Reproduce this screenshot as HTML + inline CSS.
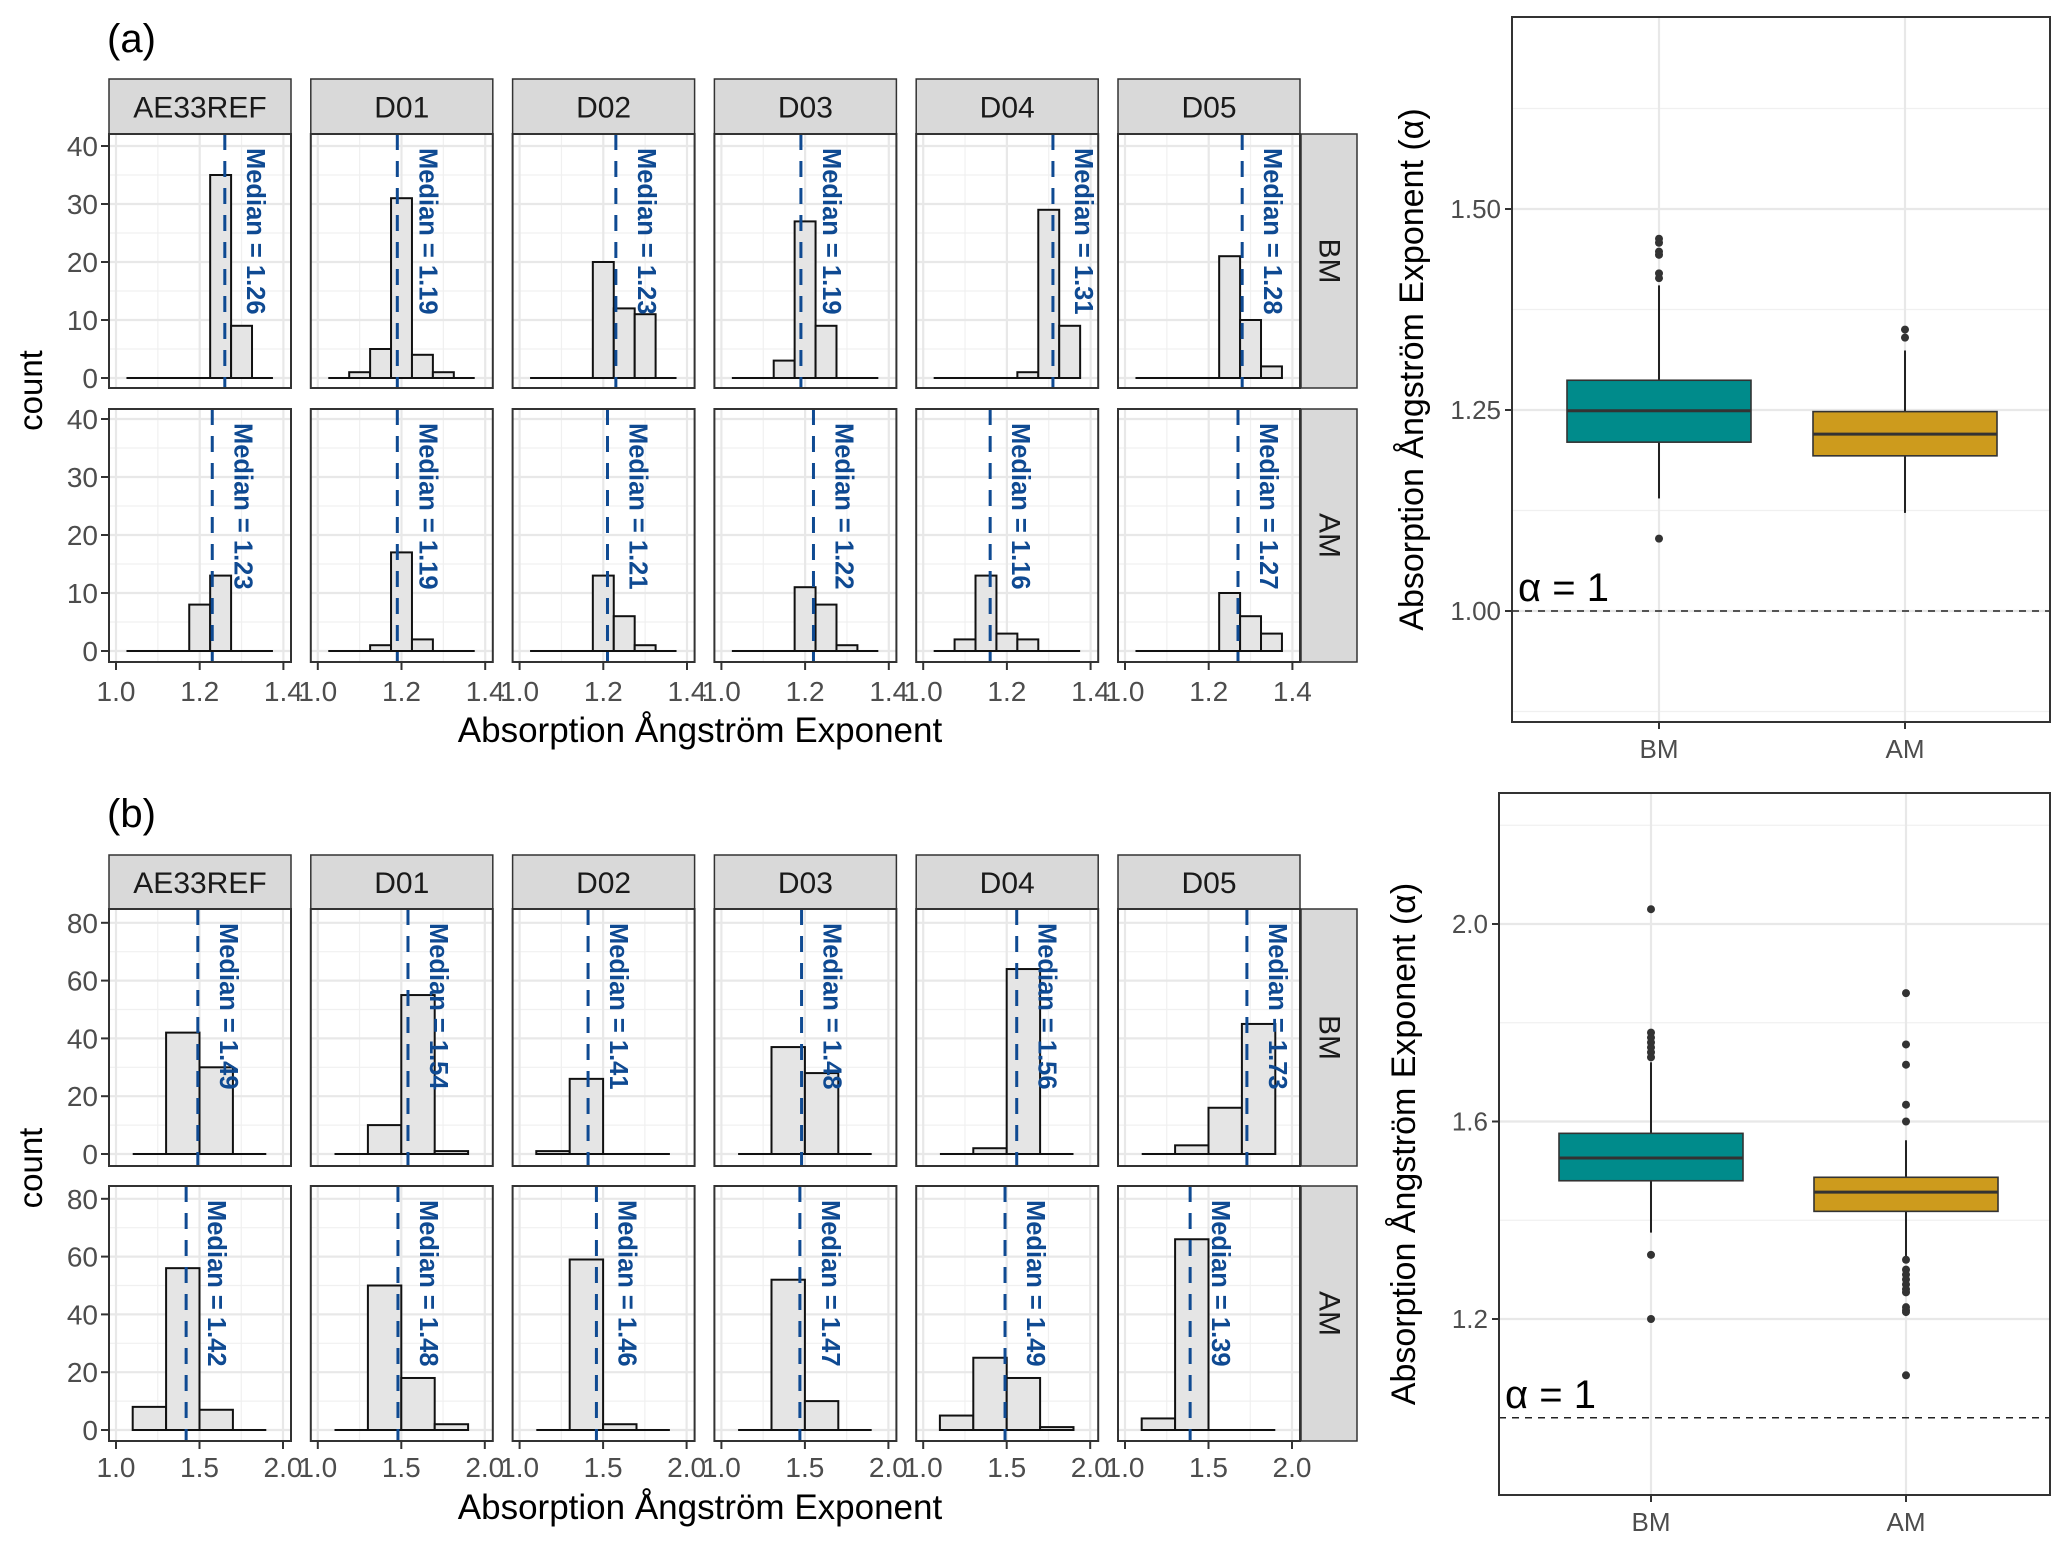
<!DOCTYPE html>
<html><head><meta charset="utf-8"><style>
html,body{margin:0;padding:0;background:#fff}
svg{display:block}
text{font-family:"Liberation Sans",Arial,sans-serif}
</style></head><body>
<svg id="fig" xmlns="http://www.w3.org/2000/svg" width="2067" height="1548" viewBox="0 0 2067 1548">
<rect x="0" y="0" width="2067" height="1548" fill="#fff"/>
<text x="107" y="52" font-size="40">(a)</text>
<text x="107" y="827" font-size="40">(b)</text>
</svg>
<script>
// ---------- data ----------
const cats = ['AE33REF','D01','D02','D03','D04','D05'];
// (a) histograms: bins from 1.025, width 0.05, 7 bins
const aBinStart = 1.025;
const aBinWidth = 0.05;
const aCountsBM = [[0,0,0,0,35,9,0],[0,1,5,31,4,1,0],[0,0,0,20,12,11,0],[0,0,3,27,9,0,0],[0,0,0,0,1,29,9],[0,0,0,0,21,10,2]];
const aCountsAM = [[0,0,0,8,13,0,0],[0,0,1,17,2,0,0],[0,0,0,13,6,1,0],[0,0,0,11,8,1,0],[0,2,13,3,2,0,0],[0,0,0,0,10,6,3]];
const aMedBM = [1.26,1.19,1.23,1.19,1.31,1.28];
const aMedAM = [1.23,1.19,1.21,1.22,1.16,1.27];
const aXTicks = [1.0,1.2,1.4];
const aXTickLabels = ['1.0','1.2','1.4'];
const aYTicks = [0,10,20,30,40];
// (b) histograms: bins from 1.1, width 0.2, 4 bins
const bBinStart = 1.1;
const bBinWidth = 0.2;
const bCountsBM = [[0,42,30,0],[0,10,55,1],[1,26,0,0],[0,37,28,0],[0,2,64,0],[0,3,16,45]];
const bCountsAM = [[8,56,7,0],[0,50,18,2],[0,59,2,0],[0,52,10,0],[5,25,18,1],[4,66,0,0]];
const bMedBM = [1.49,1.54,1.41,1.48,1.56,1.73];
const bMedAM = [1.42,1.48,1.46,1.47,1.49,1.39];
const bXTicks = [1.0,1.5,2.0];
const bXTickLabels = ['1.0','1.5','2.0'];
const bYTicks = [0,20,40,60,80];
// box plots
const boxGroups = ['BM','AM'];
const boxA_stats = [[1.14,1.21,1.249,1.287,1.405],[1.122,1.193,1.22,1.248,1.324]]; // lo, q1, med, q3, hi
const boxA_out = [[1.463,1.458,1.447,1.443,1.42,1.414,1.09],[1.35,1.34]];
const boxA_ticks = [1.00,1.25,1.50];
const boxA_tickLabels = ['1.00','1.25','1.50'];
const boxB_stats = [[1.375,1.48,1.526,1.576,1.72],[1.32,1.418,1.457,1.487,1.562]];
const boxB_out = [[2.03,1.78,1.77,1.76,1.75,1.74,1.73,1.33,1.20],[1.86,1.756,1.715,1.634,1.60,1.32,1.30,1.29,1.28,1.27,1.26,1.254,1.224,1.218,1.214,1.086]];
const boxB_ticks = [1.2,1.6,2.0];
const boxB_tickLabels = ['1.2','1.6','2.0'];

// ---------- helpers ----------
const NS='http://www.w3.org/2000/svg';
const svg=document.getElementById('fig');
function mk(tag,attrs,parent){const e=document.createElementNS(NS,tag);for(const k in attrs)e.setAttribute(k,attrs[k]);(parent||svg).appendChild(e);return e;}

function drawSection(cfg){
  const g=mk('g',{});
  
  
  const left0=109, step=201.8, w=182;
  cats.forEach((c,i)=>{
    const L=left0+step*i;
    const st=mk('rect',{x:L,y:cfg.stripTop,width:w,height:cfg.rows[0].top-cfg.stripTop,fill:'#d9d9d9',stroke:'#333','stroke-width':1.5},g);
    
    
    const stt=mk('text',{x:L+w/2,y:(cfg.stripTop+cfg.rows[0].top)/2+11,'font-size':30,'text-anchor':'middle',fill:'#1a1a1a'},g);
    stt.textContent=c;
    
    
    cfg.rows.forEach((r,ri)=>{
      const xs=v=>L+7+(v-1.0)*cfg.xPer;
      const ys=v=>r.y0-v*r.yPer;
      const pg=mk('g',{},g);
      
      
      mk('rect',{x:L,y:r.top,width:w,height:r.bottom-r.top,fill:'#fff'},pg);
      cfg.xMinor.forEach(v=>mk('line',{x1:xs(v),x2:xs(v),y1:r.top,y2:r.bottom,stroke:'#f0f0f0','stroke-width':1.2},pg));
      cfg.yMinor.forEach(v=>mk('line',{x1:L,x2:L+w,y1:ys(v),y2:ys(v),stroke:'#f0f0f0','stroke-width':1.2},pg));
      cfg.xTicks.forEach(v=>mk('line',{x1:xs(v),x2:xs(v),y1:r.top,y2:r.bottom,stroke:'#e8e8e8','stroke-width':2.2},pg));
      cfg.yTicks.forEach(v=>mk('line',{x1:L,x2:L+w,y1:ys(v),y2:ys(v),stroke:'#e8e8e8','stroke-width':2.2},pg));
      const counts=r.counts[i];
      const e0=cfg.binStart, e1=cfg.binStart+cfg.binWidth*counts.length;
      const base=mk('line',{x1:xs(e0),x2:xs(e1),y1:ys(0),y2:ys(0),stroke:'#111','stroke-width':2},pg);
      
      
      counts.forEach((n,k)=>{
        if(n<=0)return;
        const a=cfg.binStart+k*cfg.binWidth;
        const b=mk('rect',{x:xs(a),y:ys(n),width:xs(a+cfg.binWidth)-xs(a),height:ys(0)-ys(n),fill:'#e5e5e5',stroke:'#111','stroke-width':2},pg);
        
        
      });
      const m=r.med[i];
      const ml=mk('line',{x1:xs(m),x2:xs(m),y1:r.top,y2:r.bottom,stroke:'#0f4a92','stroke-width':3,'stroke-dasharray':'16,11'},pg);
      
      
      const tx=xs(m)+22, ty=r.top+14;
      const mt=mk('text',{x:tx,y:ty,'font-size':25.5,'font-weight':'bold',fill:'#0f4a92',transform:'rotate(90 '+tx+' '+ty+')'},pg);
      mt.textContent='Median = '+m.toFixed(2);
      
      
      mk('rect',{x:L,y:r.top,width:w,height:r.bottom-r.top,fill:'none',stroke:'#333','stroke-width':2},pg);
      if(i===0){
        cfg.yTicks.forEach(v=>{
          mk('line',{x1:L-8,x2:L,y1:ys(v),y2:ys(v),stroke:'#333','stroke-width':2},pg);
          const t=mk('text',{x:L-11,y:ys(v)+10,'font-size':28,'text-anchor':'end',fill:'#4d4d4d'},pg);
          t.textContent=String(v);
          
          
        });
      }
      if(ri===1){
        cfg.xTicks.forEach((v,k)=>{
          mk('line',{x1:xs(v),x2:xs(v),y1:r.bottom,y2:r.bottom+8,stroke:'#333','stroke-width':2},pg);
          const t=mk('text',{x:xs(v),y:cfg.tickLabelY,'font-size':28,'text-anchor':'middle',fill:'#4d4d4d'},pg);
          t.textContent=cfg.xTickLabels[k];
          
          
        });
      }
    });
  });
  cfg.rows.forEach(r=>{
    const x=1301;
    const rs=mk('rect',{x:x,y:r.top,width:56,height:r.bottom-r.top,fill:'#d9d9d9',stroke:'#333','stroke-width':1.5},g);
    
    
    const cx=x+28, cy=(r.top+r.bottom)/2;
    const t=mk('text',{x:cx,y:cy,'font-size':30,'text-anchor':'middle','dominant-baseline':'central',fill:'#1a1a1a',transform:'rotate(90 '+cx+' '+cy+')'},g);
    t.textContent=r.label;
    
    
  });
  const xt=mk('text',{x:700,y:cfg.titleY,'font-size':35,'text-anchor':'middle',fill:'#000'},g);
  xt.textContent='Absorption Ångström Exponent';
  
  
  const cy=(cfg.stripTop+cfg.rows[1].bottom)/2+20;
  const yt=mk('text',{x:42,y:cy,'font-size':33,'text-anchor':'middle',fill:'#000',transform:'rotate(-90 42 '+cy+')'},g);
  yt.textContent='count';
  
  
}

drawSection({name:'histograms-a',stripTop:79,binStart:aBinStart,binWidth:aBinWidth,xPer:418.5,
  xTicks:aXTicks,xTickLabels:aXTickLabels,xMinor:[1.1,1.3],yTicks:aYTicks,yMinor:[5,15,25,35],
  tickLabelY:701,titleY:742,
  rows:[{label:'BM',top:134,bottom:388,y0:378,yPer:5.8,counts:aCountsBM,med:aMedBM},
        {label:'AM',top:409,bottom:662,y0:651,yPer:5.8,counts:aCountsAM,med:aMedAM}]});
drawSection({name:'histograms-b',stripTop:855,binStart:bBinStart,binWidth:bBinWidth,xPer:167,
  xTicks:bXTicks,xTickLabels:bXTickLabels,xMinor:[1.25,1.75],yTicks:bYTicks,yMinor:[10,30,50,70],
  tickLabelY:1477,titleY:1519,
  rows:[{label:'BM',top:909,bottom:1166,y0:1154,yPer:2.89,counts:bCountsBM,med:bMedBM},
        {label:'AM',top:1186,bottom:1441,y0:1430,yPer:2.89,counts:bCountsAM,med:bMedAM}]});

function drawBox(cfg){
  const g=mk('g',{});
  
  
  const ys=v=>cfg.yRef-(v-cfg.vRef)*cfg.per;
  mk('rect',{x:cfg.L,y:cfg.T,width:cfg.R-cfg.L,height:cfg.B-cfg.T,fill:'#fff'},g);
  cfg.minor.forEach(v=>mk('line',{x1:cfg.L,x2:cfg.R,y1:ys(v),y2:ys(v),stroke:'#f0f0f0','stroke-width':1.2},g));
  cfg.ticks.forEach(v=>mk('line',{x1:cfg.L,x2:cfg.R,y1:ys(v),y2:ys(v),stroke:'#e8e8e8','stroke-width':2.2},g));
  cfg.xs.forEach(x=>mk('line',{x1:x,x2:x,y1:cfg.T,y2:cfg.B,stroke:'#e8e8e8','stroke-width':2.2},g));
  const dl=mk('line',{x1:cfg.L,x2:cfg.R,y1:ys(1.0),y2:ys(1.0),stroke:'#222','stroke-width':1.6,'stroke-dasharray':'7,6'},g);
  
  
  const at=mk('text',{x:cfg.L+6,y:ys(1.0)-10,'font-size':40,fill:'#000','font-family':'Liberation Serif, serif'},g);
  at.textContent='α = 1';
  
  
  boxGroups.forEach((grp,i)=>{
    const s=cfg.stats[i], x=cfg.xs[i], hw=92;
    const bg=mk('g',{},g);
    
    
    mk('line',{x1:x,x2:x,y1:ys(s[0]),y2:ys(s[1]),stroke:'#222','stroke-width':2},bg);
    mk('line',{x1:x,x2:x,y1:ys(s[3]),y2:ys(s[4]),stroke:'#222','stroke-width':2},bg);
    mk('rect',{x:x-hw,y:ys(s[3]),width:2*hw,height:ys(s[1])-ys(s[3]),fill:cfg.colors[i],stroke:'#333','stroke-width':1.6},bg);
    mk('line',{x1:x-hw,x2:x+hw,y1:ys(s[2]),y2:ys(s[2]),stroke:'#333','stroke-width':3},bg);
    cfg.out[i].forEach(v=>{
      const c=mk('circle',{cx:x,cy:ys(v),r:4,fill:'#333'},bg);
      
      
    });
    mk('line',{x1:x,x2:x,y1:cfg.B,y2:cfg.B+7,stroke:'#333','stroke-width':2},g);
    const t=mk('text',{x:x,y:cfg.B+36,'font-size':26,'text-anchor':'middle',fill:'#4d4d4d'},g);
    t.textContent=grp;
    
    
  });
  cfg.ticks.forEach((v,k)=>{
    mk('line',{x1:cfg.L-7,x2:cfg.L,y1:ys(v),y2:ys(v),stroke:'#333','stroke-width':2},g);
    const t=mk('text',{x:cfg.L-11,y:ys(v)+9,'font-size':26,'text-anchor':'end',fill:'#4d4d4d'},g);
    t.textContent=cfg.tickLabels[k];
    
    
  });
  mk('rect',{x:cfg.L,y:cfg.T,width:cfg.R-cfg.L,height:cfg.B-cfg.T,fill:'none',stroke:'#333','stroke-width':2},g);
  const cx=cfg.titleX, cy=(cfg.T+cfg.B)/2;
  const yt=mk('text',{x:cx,y:cy,'font-size':34,'text-anchor':'middle',fill:'#000',transform:'rotate(-90 '+cx+' '+cy+')'},g);
  yt.textContent='Absorption Ångström Exponent  (α)';
  
  
}
drawBox({name:'boxplot-a',L:1512,R:2050,T:17,B:722,yRef:611,vRef:1.0,per:804,
  ticks:boxA_ticks,tickLabels:boxA_tickLabels,minor:[0.875,1.125,1.375,1.625],xs:[1659,1905],
  stats:boxA_stats,out:boxA_out,colors:['#008b8b','#cd9b1d'],titleX:1423});
drawBox({name:'boxplot-b',L:1499,R:2050,T:793,B:1495,yRef:1319,vRef:1.2,per:493.75,
  ticks:boxB_ticks,tickLabels:boxB_tickLabels,minor:[1.4,1.8,2.2],xs:[1651,1906],
  stats:boxB_stats,out:boxB_out,colors:['#008b8b','#cd9b1d'],titleX:1415});
</script>
</body></html>
